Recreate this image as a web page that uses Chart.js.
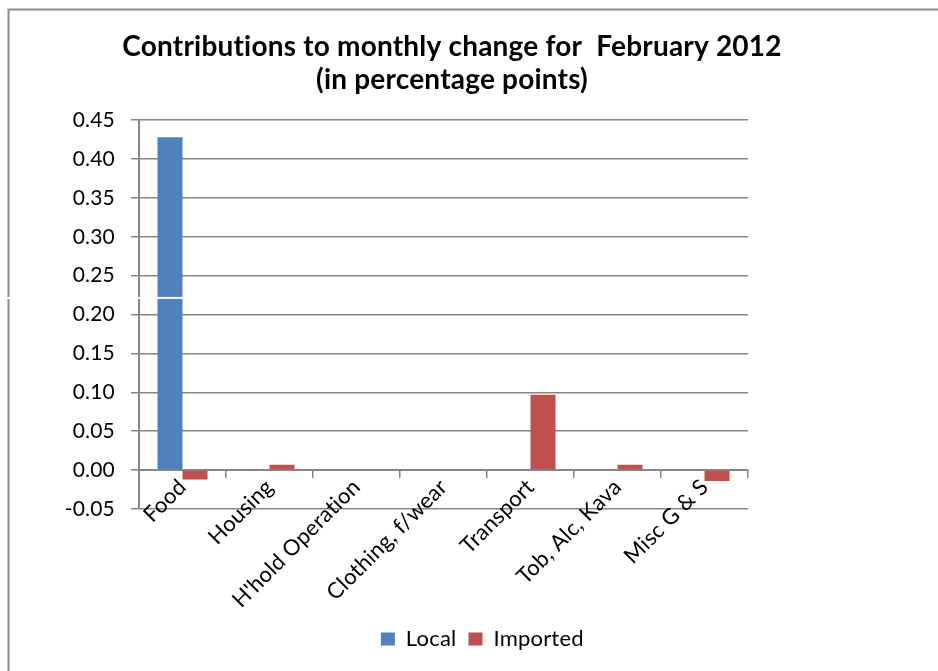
<!DOCTYPE html>
<html>
<head>
<meta charset="utf-8">
<script src="https://cdn.jsdelivr.net/npm/chart.js@4.4.0/dist/chart.umd.min.js"></script>
<style>
html,body{margin:0;padding:0;background:#fff;}
#wrap{width:938px;height:671px;position:relative;}
</style>
</head>
<body>
<div id="wrap"><canvas id="c"></canvas></div>
<script>
const categories = ["Food", "Housing", "H'hold Operation", "Clothing, f/wear", "Transport", "Tob, Alc, Kava", "Misc G & S"];
const localValues = [0.428, 0, 0, 0, 0, 0, 0];
const importedValues = [-0.012, 0.007, 0.001, 0.0, 0.097, 0.007, -0.014];
const seriesNames = ["Local", "Imported"];
const titleLines = ["Contributions to monthly change for  February 2012", "(in percentage points)"];
const yMin = -0.05, yMax = 0.45, yStep = 0.05;

const FONT = "Lato, 'Open Sans', sans-serif";
const GRID = "#868686";

const framePlugin = {
  id: 'frame',
  beforeDraw(chart) {
    const ctx = chart.ctx;
    ctx.save();
    ctx.fillStyle = '#ffffff';
    ctx.fillRect(0, 0, chart.width, chart.height);
    ctx.strokeStyle = '#8c8c8c';
    ctx.lineWidth = 2;
    ctx.beginPath();
    ctx.moveTo(8.5, chart.height);
    ctx.lineTo(8.5, 9.5);
    ctx.lineTo(chart.width, 9.5);
    ctx.stroke();
    ctx.restore();
    if ('letterSpacing' in ctx) ctx.letterSpacing = '0.2px';
  },
  afterDraw(chart) {
    // thin white scan artefact crossing the picture
    const ctx = chart.ctx;
    ctx.save();
    ctx.fillStyle = '#ffffff';
    ctx.fillRect(0, chart.height * 0.4425, chart.width, 2);
    ctx.restore();
  }
};

const legendShift = {
  id: 'legendShift',
  afterLayout(chart) {
    const lg = chart.legend;
    if (lg) { lg.left += 58; lg.width -= 58; }
  }
};

new Chart(document.getElementById('c'), {
  type: 'bar',
  data: {
    labels: categories,
    datasets: [
      { label: seriesNames[0], data: localValues, backgroundColor: '#4F81BD', borderWidth: 0 },
      { label: seriesNames[1], data: importedValues, backgroundColor: '#C0504D', borderWidth: 0 }
    ]
  },
  plugins: [framePlugin, legendShift],
  options: {
    responsive: true,
    maintainAspectRatio: false,
    animation: false,
    devicePixelRatio: 1,
    datasets: { bar: { categoryPercentage: 0.575, barPercentage: 1.0 } },
    layout: { padding: { left: 10, right: 44, top: 0, bottom: 11 } },
    plugins: {
      tooltip: { enabled: false },
      title: {
        display: true,
        text: titleLines,
        color: '#000',
        font: { family: FONT, size: 28, weight: 'bold', lineHeight: 1.2 },
        padding: { top: 30, bottom: 23 }
      },
      legend: {
        position: 'bottom',
        labels: {
          color: '#000',
          boxWidth: 14,
          boxHeight: 13,
          padding: 12,
          font: { family: FONT, size: 22 }
        }
      }
    },
    scales: {
      x: {
        position: { y: 0 },
        grid: { offset: true, drawOnChartArea: false, tickLength: 7, color: GRID, lineWidth: 1.5 },
        border: { display: true, color: GRID, width: 2 },
        ticks: { color: '#000', minRotation: 45, maxRotation: 45, padding: -3, font: { family: FONT, size: 22 } }
      },
      y: {
        min: yMin,
        max: yMax,
        grid: { color: GRID, lineWidth: 1.5, tickLength: 8 },
        border: { color: GRID, width: 2 },
        ticks: {
          stepSize: yStep,
          color: '#000',
          padding: 16,
          font: { family: FONT, size: 21 },
          callback: v => (Math.abs(v) < 1e-9 ? 0 : v).toFixed(2)
        },
        afterFit(s) { s.width = 129; }
      },
      padR: {
        type: 'linear',
        position: 'right',
        display: true,
        grid: { display: false },
        border: { display: false },
        ticks: { display: false },
        afterFit(s) { s.width = 146; }
      },
      padB: {
        type: 'linear',
        position: 'bottom',
        display: true,
        grid: { display: false },
        border: { display: false },
        ticks: { display: false },
        afterFit(s) { s.height = 107; }
      }
    }
  }
});
</script>
</body>
</html>
